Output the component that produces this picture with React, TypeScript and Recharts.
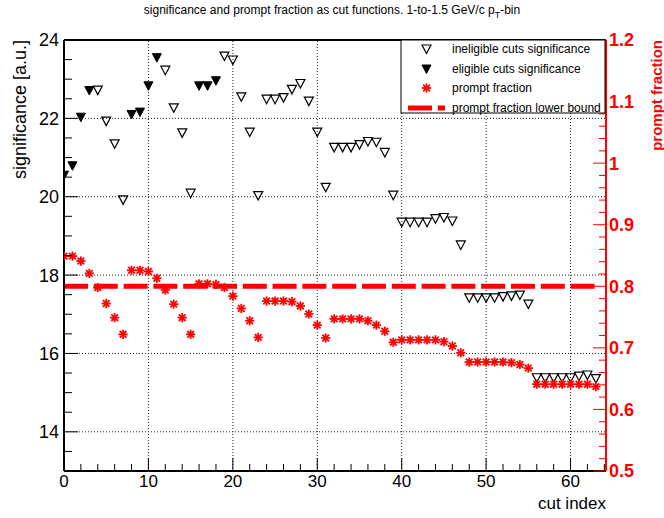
import React from 'react';
import { ScatterChart, Scatter, XAxis, YAxis, ReferenceLine } from 'recharts';

if (typeof document !== 'undefined') document.body.style.margin = '0';

const FONT = '"Liberation Sans", Arial, Helvetica, sans-serif';

// ---- data ----
const significance = [
  20.55, 20.79, 22.03, 22.71, 22.72, 21.93, 21.35, 19.92, 22.10, 22.16,
  22.83, 23.55, 23.23, 22.27, 21.63, 20.09, 22.83, 22.83, 22.96, 23.59,
  23.49, 22.55, 21.65, 20.03, 22.49, 22.49, 22.53, 22.74, 22.89, 22.44,
  21.65, 20.24, 21.26, 21.26, 21.26, 21.33, 21.41, 21.39, 21.13, 20.04,
  19.35, 19.35, 19.35, 19.35, 19.44, 19.47, 19.38, 18.77, 17.42, 17.42,
  17.42, 17.42, 17.45, 17.47, 17.49, 17.26, 15.38, 15.38, 15.38, 15.38,
  15.38, 15.42, 15.45, 15.36,
];
const promptFraction = [
  0.849, 0.849, 0.841, 0.821, 0.798, 0.772, 0.749, 0.722, 0.826, 0.826,
  0.824, 0.813, 0.794, 0.771, 0.749, 0.722, 0.804, 0.804, 0.803, 0.798,
  0.784, 0.764, 0.744, 0.717, 0.776, 0.776, 0.776, 0.775, 0.768, 0.755,
  0.737, 0.716, 0.747, 0.747, 0.747, 0.747, 0.744, 0.737, 0.727, 0.709,
  0.713, 0.713, 0.713, 0.713, 0.713, 0.710, 0.703, 0.692, 0.677, 0.677,
  0.677, 0.677, 0.677, 0.676, 0.673, 0.667, 0.641, 0.641, 0.641, 0.641,
  0.641, 0.641, 0.641, 0.637,
];
const eligibleCuts = [0, 1, 2, 3, 8, 9, 10, 11, 16, 17, 18];
const promptFractionLowerBound = 0.8;
const cutIndex = significance.map((_, i) => i);

const xTicks = [0, 2, 4, 6, 8, 10, 12, 14, 16, 18, 20, 22, 24, 26, 28, 30, 32, 34, 36, 38, 40, 42, 44, 46, 48, 50, 52, 54, 56, 58, 60, 62, 64];
const xMajor = [0, 10, 20, 30, 40, 50, 60];
const leftTicks = [13, 13.5, 14, 14.5, 15, 15.5, 16, 16.5, 17, 17.5, 18, 18.5, 19, 19.5, 20, 20.5, 21, 21.5, 22, 22.5, 23, 23.5, 24];
const leftMajor = [14, 16, 18, 20, 22, 24];
const rightTicks = [0.5, 0.52, 0.54, 0.56, 0.58, 0.6, 0.62, 0.64, 0.66, 0.68, 0.7, 0.72, 0.74, 0.76, 0.78, 0.8, 0.82, 0.84, 0.86, 0.88, 0.9, 0.92, 0.94, 0.96, 0.98, 1.0, 1.02, 1.04, 1.06, 1.08, 1.1, 1.12, 1.14, 1.16, 1.18, 1.2];
const rightMajor = ['0.5', '0.6', '0.7', '0.8', '0.9', '1', '1.1', '1.2'];
const xGrid = [10, 20, 30, 40, 50, 60];
const yGrid = [14, 16, 18, 20, 22];

const ineligibleData = cutIndex.filter((i) => !eligibleCuts.includes(i)).map((i) => ({ x: i, y: significance[i] }));
const eligibleData = cutIndex.filter((i) => eligibleCuts.includes(i)).map((i) => ({ x: i, y: significance[i] }));
const promptData = cutIndex.map((i) => ({ x: i, y: promptFraction[i] }));

// ---- shapes ----
const OpenTri = ({ cx, cy }: any) => (
  <polygon points={`${cx - 4.5},${cy - 4} ${cx + 4.5},${cy - 4} ${cx},${cy + 4.5}`} fill="none" stroke="#000" strokeWidth={1.2} />
);
const FilledTri = ({ cx, cy }: any) => (
  <polygon points={`${cx - 4.5},${cy - 4} ${cx + 4.5},${cy - 4} ${cx},${cy + 4.5}`} fill="#000" stroke="#000" strokeWidth={1} />
);
const Star = ({ cx, cy }: any) => {
  const r = 4.6;
  const d = r * 0.72;
  return (
    <g stroke="#ff0000" strokeWidth={1.8}>
      <line x1={cx - r} y1={cy} x2={cx + r} y2={cy} />
      <line x1={cx} y1={cy - r} x2={cx} y2={cy + r} />
      <line x1={cx - d} y1={cy - d} x2={cx + d} y2={cy + d} />
      <line x1={cx - d} y1={cy + d} x2={cx + d} y2={cy - d} />
      <circle cx={cx} cy={cy} r={1.6} fill="#ff0000" stroke="none" />
    </g>
  );
};

// ---- ticks ----
const XTick = ({ x, y, payload }: any) => {
  const v = payload.value;
  const major = xMajor.includes(v);
  return (
    <g>
      <line x1={x} y1={y} x2={x} y2={y - (major ? 13 : 7)} stroke="#000" strokeWidth={1} />
      {major && (
        <text x={x} y={y + 16} textAnchor="middle" fontSize={17} fontFamily={FONT} fill="#000">{v}</text>
      )}
    </g>
  );
};
const LeftTick = ({ x, y, payload }: any) => {
  const v = payload.value;
  const major = leftMajor.includes(v);
  return (
    <g>
      <line x1={x} y1={y} x2={x + (major ? 14 : 8)} y2={y} stroke="#000" strokeWidth={1} />
      {major && (
        <text x={x - 5} y={y} dy="0.36em" textAnchor="end" fontSize={18} fontFamily={FONT} fill="#000">{v}</text>
      )}
    </g>
  );
};
const RightTick = ({ x, y, payload }: any) => {
  const label = String(Number(payload.value.toFixed(2)));
  const major = rightMajor.includes(label);
  return (
    <g>
      <line x1={x} y1={y} x2={x - (major ? 13 : 7)} y2={y} stroke="#ff0000" strokeWidth={1} />
      {major && (
        <text x={x + 3} y={y} dy="0.36em" textAnchor="start" fontSize={18} fontWeight="bold" fontFamily={FONT} fill="#ff0000">{label}</text>
      )}
    </g>
  );
};

export default function App() {
  return (
    <div style={{ position: 'relative', width: 664, height: 518, background: '#fff', fontFamily: FONT }}>
      <ScatterChart width={664} height={518} margin={{ top: 40, right: 0, bottom: 0, left: 0 }}>
        <XAxis
          type="number"
          dataKey="x"
          domain={[0, 64.2]}
          allowDataOverflow
          ticks={xTicks}
          interval={0}
          tickSize={0}
          tickMargin={0}
          tickLine={false}
          tick={XTick}
          axisLine={{ stroke: '#000', strokeWidth: 2 }}
          height={47}
        />
        <YAxis
          yAxisId="left"
          type="number"
          dataKey="y"
          domain={[13, 24]}
          allowDataOverflow
          ticks={leftTicks}
          interval={0}
          tickSize={0}
          tickMargin={0}
          tickLine={false}
          tick={LeftTick}
          axisLine={{ stroke: '#000', strokeWidth: 2 }}
          width={64}
        />
        <YAxis
          yAxisId="right"
          orientation="right"
          type="number"
          dataKey="y"
          domain={[0.5, 1.2]}
          allowDataOverflow
          ticks={rightTicks}
          interval={0}
          tickSize={0}
          tickMargin={0}
          tickLine={false}
          tick={RightTick}
          axisLine={{ stroke: '#ff0000', strokeWidth: 2 }}
          width={58}
        />
        {xGrid.map((g) => (
          <ReferenceLine key={'gx' + g} yAxisId="left" x={g} stroke="#222" strokeWidth={1} strokeDasharray="1 2" />
        ))}
        {yGrid.map((g) => (
          <ReferenceLine key={'gy' + g} yAxisId="left" y={g} stroke="#222" strokeWidth={1} strokeDasharray="1 2" />
        ))}
        <ReferenceLine yAxisId="left" y={24} stroke="#000" strokeWidth={2} />
        <ReferenceLine
          yAxisId="right"
          segment={[
            { x: cutIndex[0], y: promptFractionLowerBound },
            { x: cutIndex[cutIndex.length - 1], y: promptFractionLowerBound },
          ]}
          stroke="#ff0000"
          strokeWidth={5}
          strokeDasharray="24 5.8"
        />
        <Scatter yAxisId="left" data={ineligibleData} shape={OpenTri} isAnimationActive={false} />
        <Scatter yAxisId="left" data={eligibleData} shape={FilledTri} isAnimationActive={false} />
        <Scatter yAxisId="right" data={promptData} shape={Star} isAnimationActive={false} />
      </ScatterChart>
      <svg width={664} height={518} style={{ position: 'absolute', left: 0, top: 0, pointerEvents: 'none' }}>
        <text x={332} y={14} textAnchor="middle" fontSize={12} fontFamily={FONT} fill="#000">
          significance and prompt fraction as cut functions. 1-to-1.5 GeV/c p<tspan dy={4} fontSize={9}>T</tspan><tspan dy={-4}>-bin</tspan>
        </text>
        <text transform="translate(26,40) rotate(-90)" textAnchor="end" fontSize={18} fontFamily={FONT} fill="#000">significance [a.u.]</text>
        <text transform="translate(662,40) rotate(-90)" textAnchor="end" fontSize={15} fontWeight="bold" fontFamily={FONT} fill="#ff0000">prompt fraction</text>
        <text x={606} y={509} textAnchor="end" fontSize={17} fontFamily={FONT} fill="#000">cut index</text>
        {/* legend */}
        <rect x={401} y={40} width={204} height={73} fill="#fff" stroke="#000" strokeWidth={1} />
        <polygon points="422,45 431,45 426.5,53.5" fill="none" stroke="#000" strokeWidth={1.2} />
        <text x={452} y={49} dy="0.36em" fontSize={12} fontFamily={FONT} fill="#000">ineligible cuts significance</text>
        <polygon points="422,65 431,65 426.5,73.5" fill="#000" stroke="#000" strokeWidth={1} />
        <text x={452} y={69} dy="0.36em" fontSize={12} fontFamily={FONT} fill="#000">eligible cuts significance</text>
        <Star cx={426.5} cy={88} />
        <text x={452} y={88} dy="0.36em" fontSize={12} fontFamily={FONT} fill="#000">prompt fraction</text>
        <line x1={408} y1={108} x2={445} y2={108} stroke="#ff0000" strokeWidth={5} strokeDasharray="24 5.8" />
        <text x={452} y={108} dy="0.36em" fontSize={12} fontFamily={FONT} fill="#000">prompt fraction lower bound</text>
      </svg>
    </div>
  );
}
